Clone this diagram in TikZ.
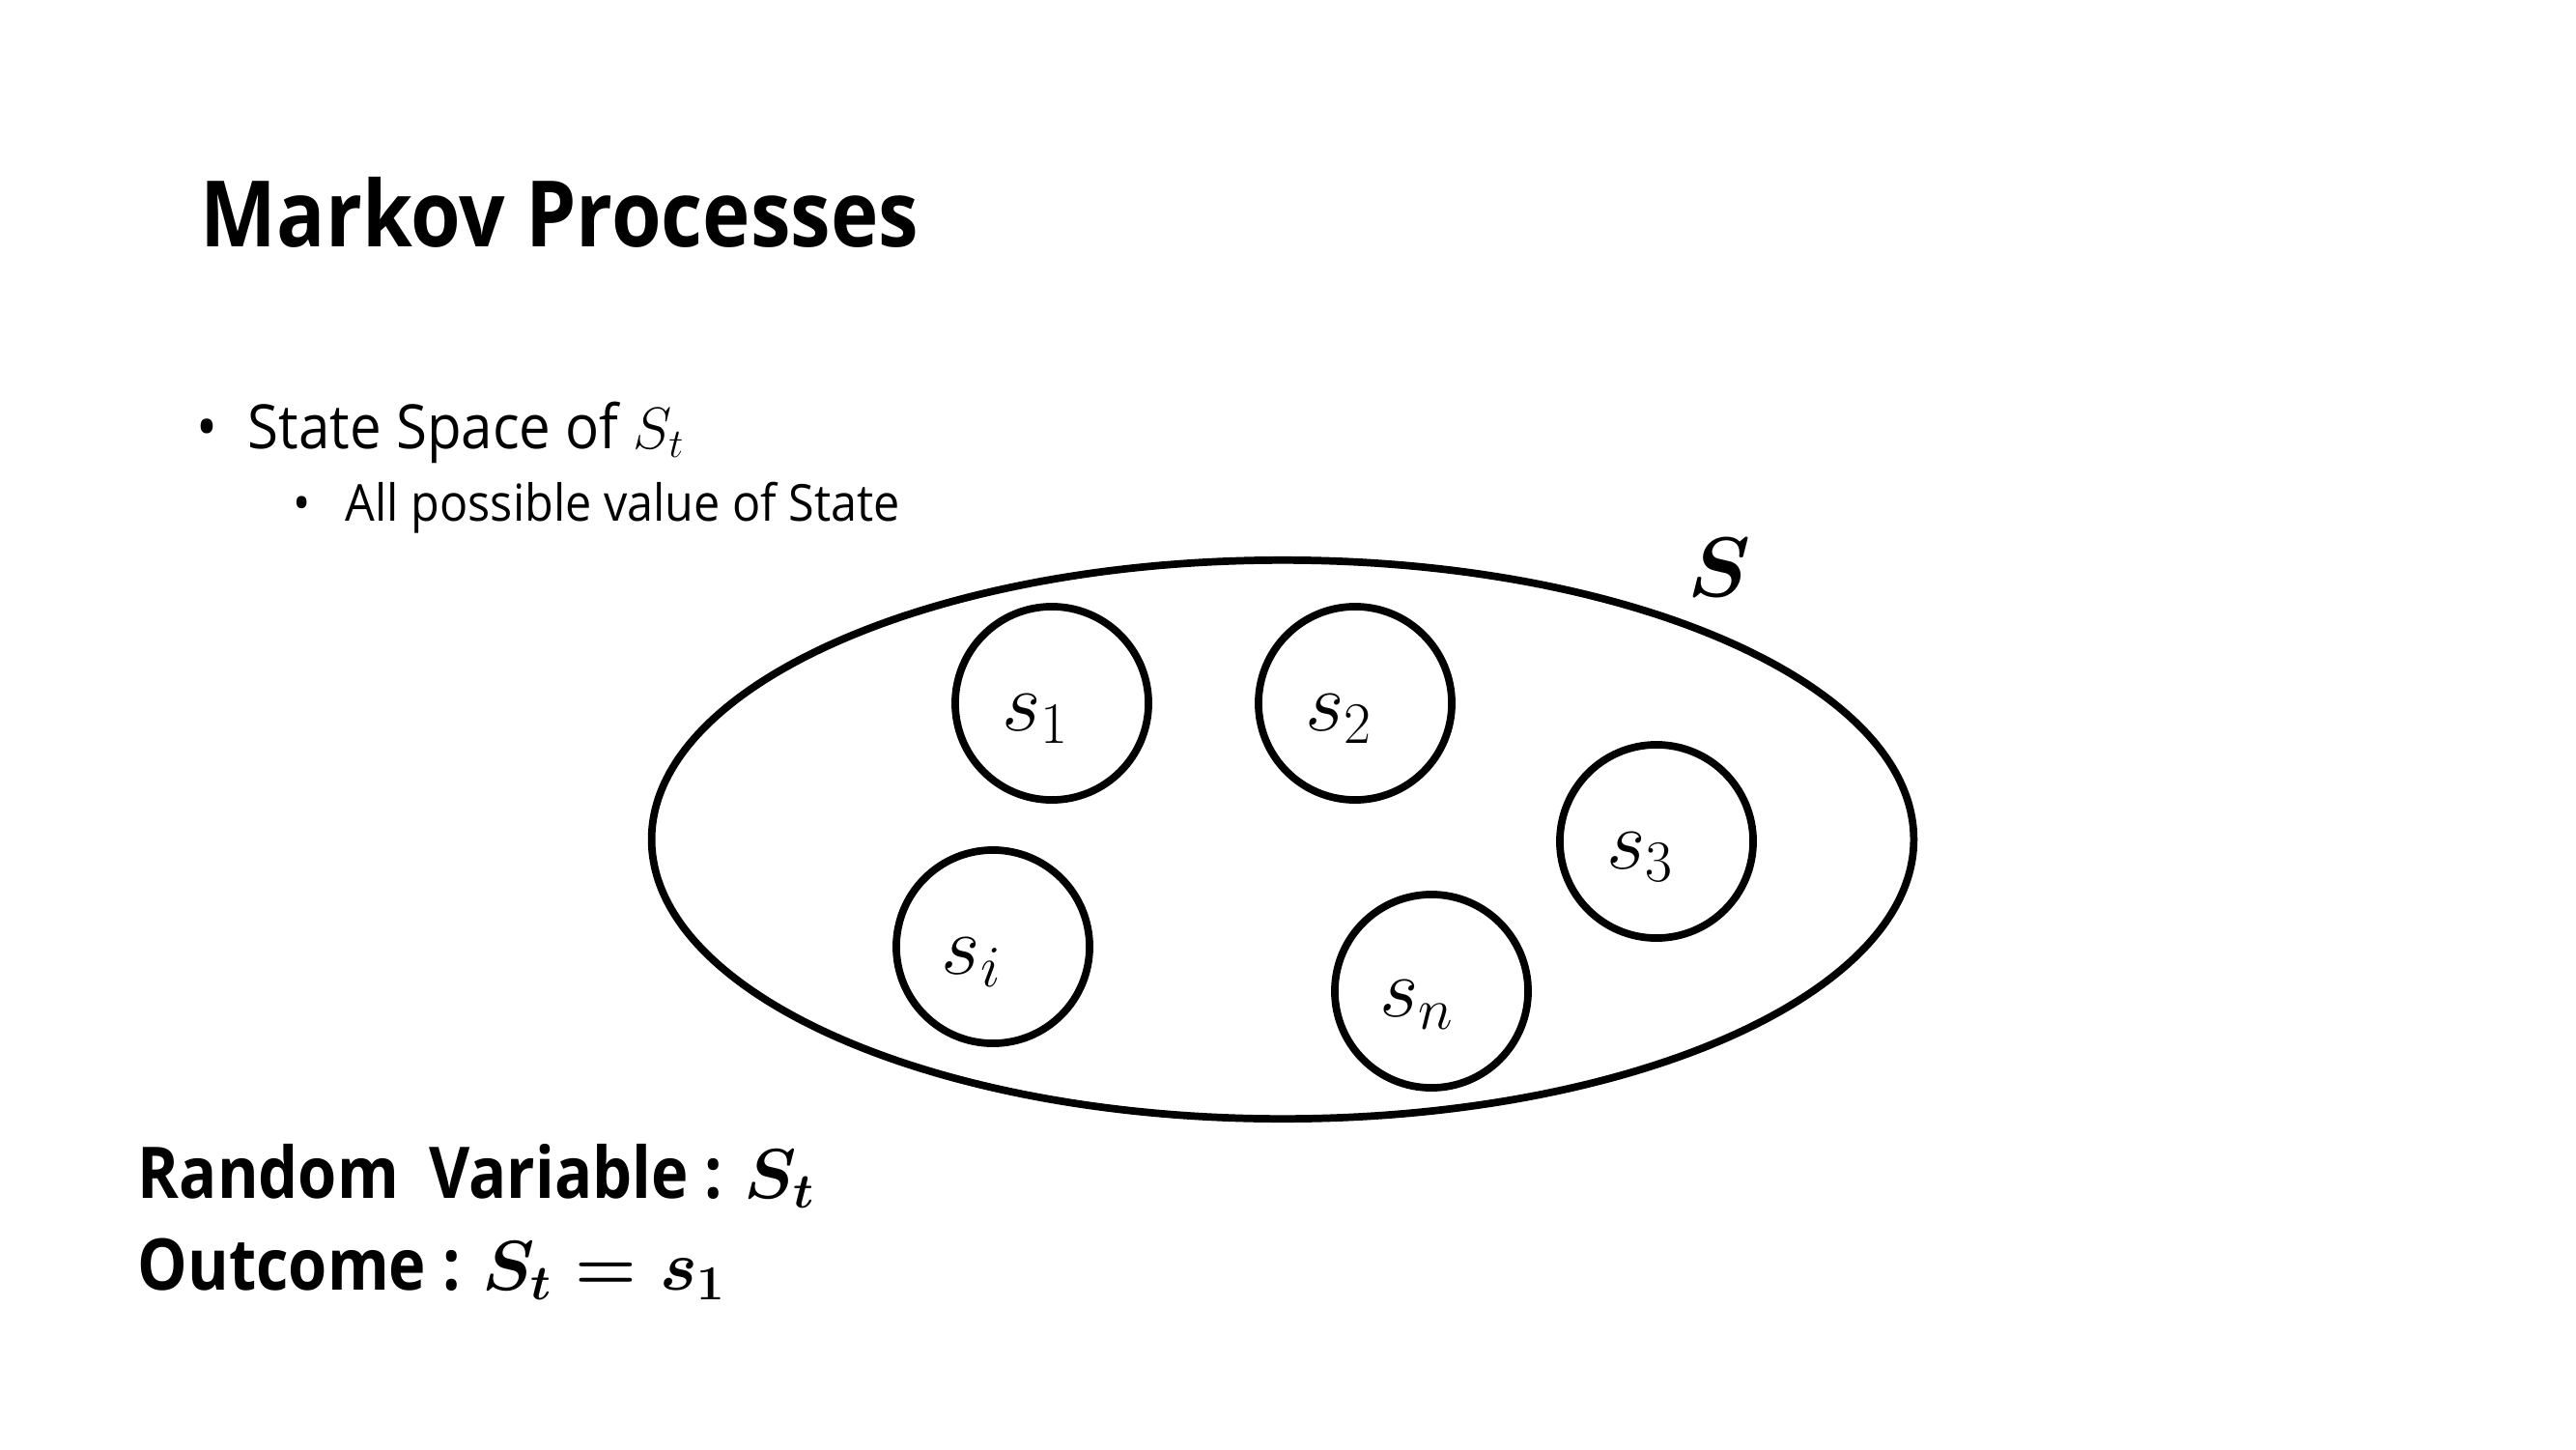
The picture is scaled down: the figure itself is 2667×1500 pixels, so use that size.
\documentclass[tikz,border=0pt]{standalone}
\usepackage{fontspec}
\usepackage{amsmath,bm}
\setmainfont[FakeStretch=0.92, BoldFeatures={FakeStretch=0.88}]{Open Sans}
\usetikzlibrary{shapes.geometric}

\tikzset{
  txt/.style={anchor=base west, inner sep=0pt},
  title/.style={txt, font=\fontsize{27}{32}\selectfont\bfseries},
  bul1/.style={txt, font=\fontsize{18}{22}\selectfont},
  bul2/.style={txt, font=\fontsize{15}{18}\selectfont},
  boldtxt/.style={txt, font=\fontsize{21}{25}\selectfont\bfseries\boldmath},
  space/.style={ellipse, draw, inner sep=0pt},
  state/.style={circle, draw, minimum size=2cm, inner sep=0pt},
  lbl/.style={inner sep=0pt, font=\fontsize{24}{28}\selectfont},
  bigS/.style={inner sep=0pt, font=\fontsize{28}{32}\selectfont}
}

\begin{document}
\begin{tikzpicture}[x=0.01cm, y=-0.01cm, line width=2.2pt]
  \useasboundingbox (0,0) rectangle (2667,1500);
  % heading and bullets
  \node[title] (title) at (204,255) {Markov Processes};
  \node[bul1] (b1) at (200,464) {•};
  \node[bul1] (t1) at (253,464) {State Space of $S_t$};
  \node[bul2] (b2) at (300,539) {•};
  \node[bul2] (t2) at (354,539) {All possible value of State};
  % state space
  \node[space, minimum width=13.06cm, minimum height=5.78cm] (S) at (1328,869) {};
  \node[bigS] (Slbl) at (1780,587) {$\bm{S}$};
  \node[state] (s1) at (1089,728) {};
  \node[state] (s2) at (1403,728) {};
  \node[state] (s3) at (1715,871) {};
  \node[state] (si) at (1028,980) {};
  \node[state] (sn) at (1482,1026) {};
  \node[lbl] (l1) at ([xshift=-0.17cm,yshift=-0.16cm]s1.center) {$s_1$};
  \node[lbl] (l2) at ([xshift=-0.17cm,yshift=-0.16cm]s2.center) {$s_2$};
  \node[lbl] (l3) at ([xshift=-0.17cm,yshift=-0.16cm]s3.center) {$s_3$};
  \node[lbl] (li) at ([xshift=-0.22cm,yshift=-0.16cm]si.center) {$s_i$};
  \node[lbl] (ln) at ([xshift=-0.15cm,yshift=-0.14cm]sn.center) {$s_n$};
  % random variable
  \node[boldtxt] (rv) at (139,1240) {Random\hspace{0.2em} Variable : $S_t$};
  \node[boldtxt] (oc) at (139,1335) {Outcome : $S_t = s_1$};
\end{tikzpicture}
\end{document}
